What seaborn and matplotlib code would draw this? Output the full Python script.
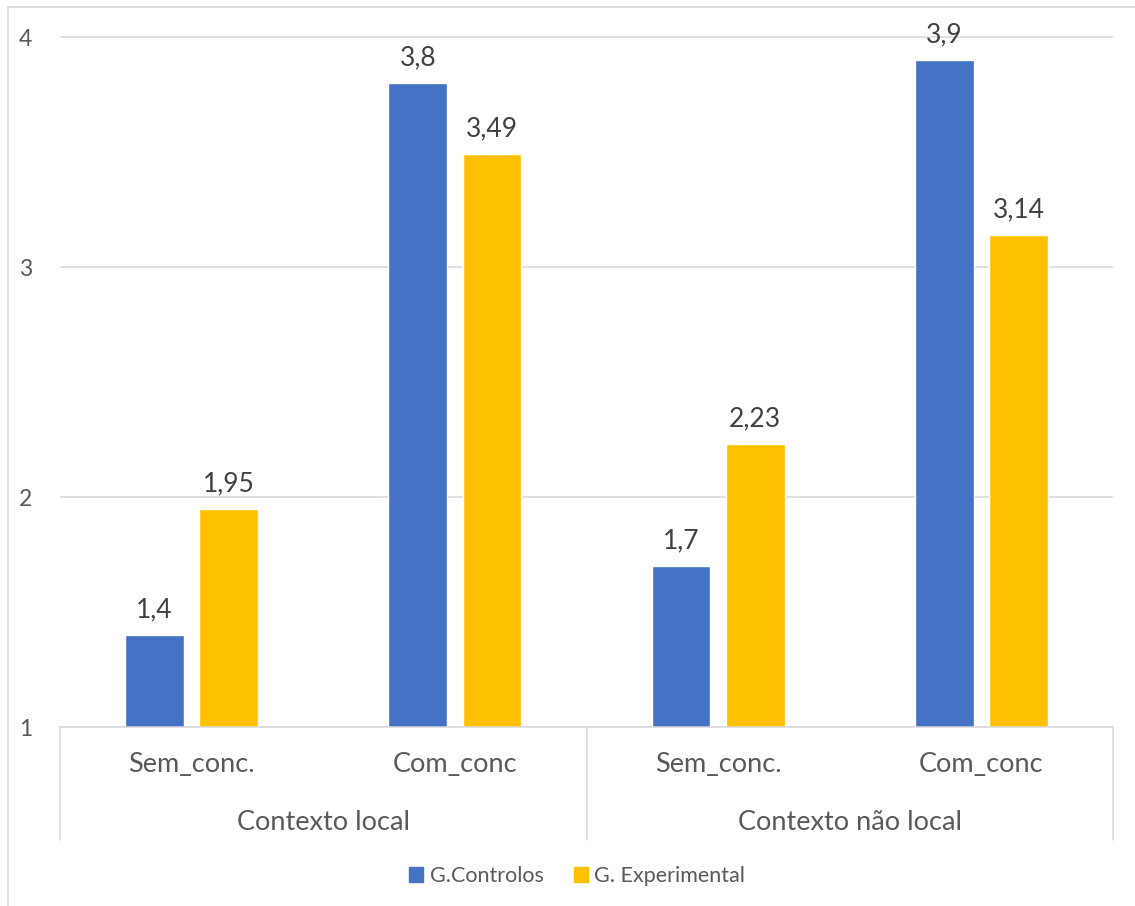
import matplotlib
matplotlib.use("Agg")
import matplotlib.pyplot as plt
import matplotlib.patches as mpatches
import seaborn as sns
import pandas as pd

# Data
contexts = ["Contexto local", "Contexto local", "Contexto não local", "Contexto não local"]
conditions = ["Sem_conc.", "Com_conc", "Sem_conc.", "Com_conc"]
group_names = ["G.Controlos", "G. Experimental"]
controlos = [1.4, 3.8, 1.7, 3.9]
experimental = [1.95, 3.49, 2.23, 3.14]
y_ticks = [1, 2, 3, 4]

colors = ["#4472C4", "#FFC000"]
text_color = "#595959"
line_color = "#D9D9D9"

keys = [f"{c}|{s}" for c, s in zip(contexts, conditions)]
df = pd.DataFrame({
    "key": keys * 2,
    "value": controlos + experimental,
    "group": [group_names[0]] * 4 + [group_names[1]] * 4,
})

sns.set_theme(style="white")
plt.rcParams["font.family"] = ["Lato", "DejaVu Sans"]

W, H = 1135, 906
fig = plt.figure(figsize=(W / 100, H / 100), dpi=100)

# plot area in pixels
left_px, right_px, base_px, top_px = 60, 1113, 727, 30.1
ax = fig.add_axes([left_px / W, 1 - base_px / H,
                   (right_px - left_px) / W, (base_px - top_px) / H])

sns.barplot(data=df, x="key", y="value", hue="group", order=keys,
            hue_order=group_names, palette=colors, width=0.564, gap=0.21,
            saturation=1, ax=ax, legend=False)

ax.set_ylim(1, 4.03)
ax.set_xlim(-0.5, len(keys) - 0.5)
ax.set_yticks(y_ticks)
ax.set_yticklabels([str(t) for t in y_ticks], fontsize=16.5, color=text_color)
ax.tick_params(axis="y", length=0, pad=20)
ax.set_xticks([])
ax.set_xlabel("")
ax.set_ylabel("")
ax.yaxis.grid(True, color=line_color, linewidth=1.1)
ax.set_axisbelow(True)
for side in ["left", "right", "top"]:
    ax.spines[side].set_visible(False)
ax.spines["bottom"].set_color(line_color)
ax.spines["bottom"].set_linewidth(1.1)

# data labels
for cont in ax.containers:
    ax.bar_label(cont, labels=[f"{v:g}".replace(".", ",") for v in cont.datavalues],
                 padding=9, fontsize=19, color="#404040")

# multi-level category axis
tr = ax.get_xaxis_transform()
ax_h = base_px - top_px
y_sub = -(765 - base_px) / ax_h
y_grp = -(822 - base_px) / ax_h
y_end = -(840 - base_px) / ax_h
for i, s in enumerate(conditions):
    ax.text(i, y_sub, s, transform=tr, ha="center", va="center",
            fontsize=19.5, color=text_color)
uniq = list(dict.fromkeys(contexts))
for j, c in enumerate(uniq):
    idx = [i for i, cc in enumerate(contexts) if cc == c]
    ax.text(sum(idx) / len(idx), y_grp, c, transform=tr, ha="center",
            va="center", fontsize=19.5, color=text_color)
bounds = [-0.5] + [i + 0.5 for i in range(len(contexts) - 1)
                   if contexts[i] != contexts[i + 1]] + [len(contexts) - 0.5]
for b in bounds:
    ax.plot([b, b], [0, y_end], transform=tr, color=line_color,
            linewidth=1.1, clip_on=False)

# legend
handles = [mpatches.Patch(color=c, label=n) for c, n in zip(colors, group_names)]
fig.legend(handles=handles, loc="center", bbox_to_anchor=(577 / W, 1 - 876 / H),
           ncol=2, frameon=False, fontsize=15.5, labelcolor=text_color,
           handlelength=0.65, handleheight=0.65, handletextpad=0.3,
           columnspacing=1.4)

# chart border
fig.patches.append(mpatches.Rectangle((8 / W, -0.05), 1.1, 1 - 7 / H + 0.05,
                                      transform=fig.transFigure, fill=False,
                                      edgecolor=line_color, linewidth=1.3))

fig.savefig("out.png", dpi=100)
